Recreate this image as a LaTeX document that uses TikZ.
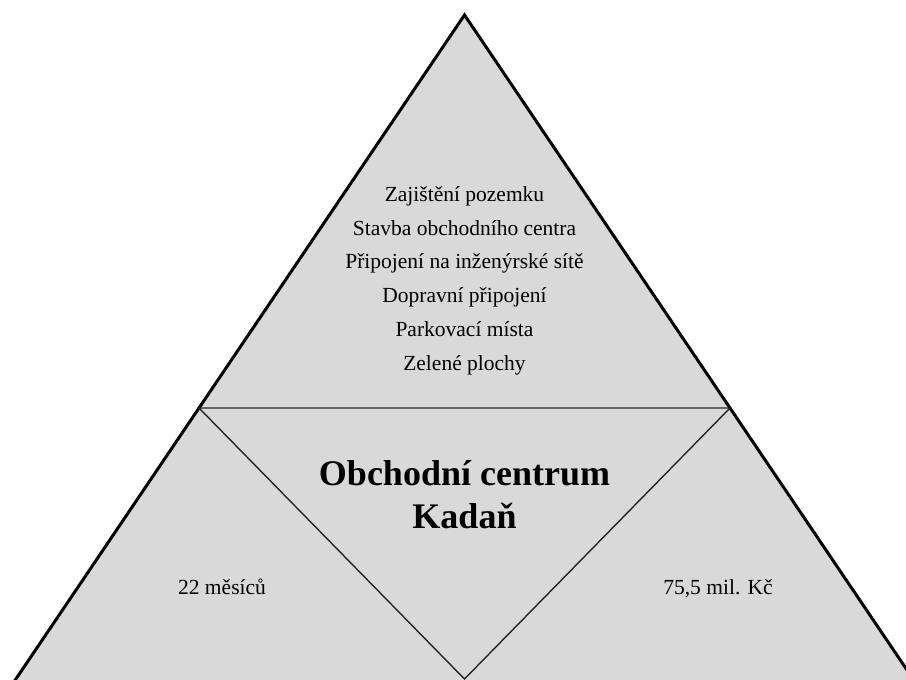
\documentclass[tikz,border=0pt]{standalone}
\usepackage{fontspec}
\setmainfont{Liberation Serif}
\usepackage{tikz}
\usetikzlibrary{calc}
\definecolor{trifill}{HTML}{D9D9D9}
\tikzset{
	itemtext/.style={anchor=base, inner sep=0pt, font=\fontsize{21.5}{25}\selectfont},
	titletext/.style={anchor=base, inner sep=0pt, font=\fontsize{36}{43}\selectfont\bfseries}
}

\begin{document}
\begin{tikzpicture}[x=1pt, y=-1pt]
			%%%%% START %%%%%
			\useasboundingbox (0, 0) rectangle (906, 680);
			\clip (0, 0) rectangle (906, 680);
			
			\coordinate (apex) at (464.5, 15);
			\coordinate (midL) at (199, 408);
			\coordinate (midR) at (730, 408);
			\coordinate (baseL) at ($(apex)!1.8!(midL)$);
			\coordinate (baseR) at ($(apex)!1.8!(midR)$);
			\coordinate (tip) at (464.5, 679);
			
			\draw[line width=3pt, fill=trifill, line join=miter] (apex) -- (baseR) -- (baseL) -- cycle;
			\draw[line width=1.4pt, color=black!85] (midL) -- (midR) -- (tip) -- cycle;
			
			\node[itemtext] (zajisteni) at (464.5, 201) {Zajištění pozemku};
			\node[itemtext] (stavba) at (464.5, 235) {Stavba obchodního centra};
			\node[itemtext] (site) at (464.5, 268.5) {Připojení na inženýrské sítě};
			\node[itemtext] (doprava) at (464.5, 302.5) {Dopravní připojení};
			\node[itemtext] (parkovani) at (464.5, 336) {Parkovací místa};
			\node[itemtext] (zelen) at (464.5, 370) {Zelené plochy};
			
			\node[titletext] (nazev) at (464.5, 485) {Obchodní centrum};
			\node[titletext] (mesto) at (464.5, 528) {Kadaň};
			
			\node[itemtext] (cas) at (222, 594) {22 měsíců};
			\node[itemtext] (naklady) at (718, 594) {75,5 mil. Kč};
			
			%%%%% END %%%%%
\end{tikzpicture}
\end{document}
